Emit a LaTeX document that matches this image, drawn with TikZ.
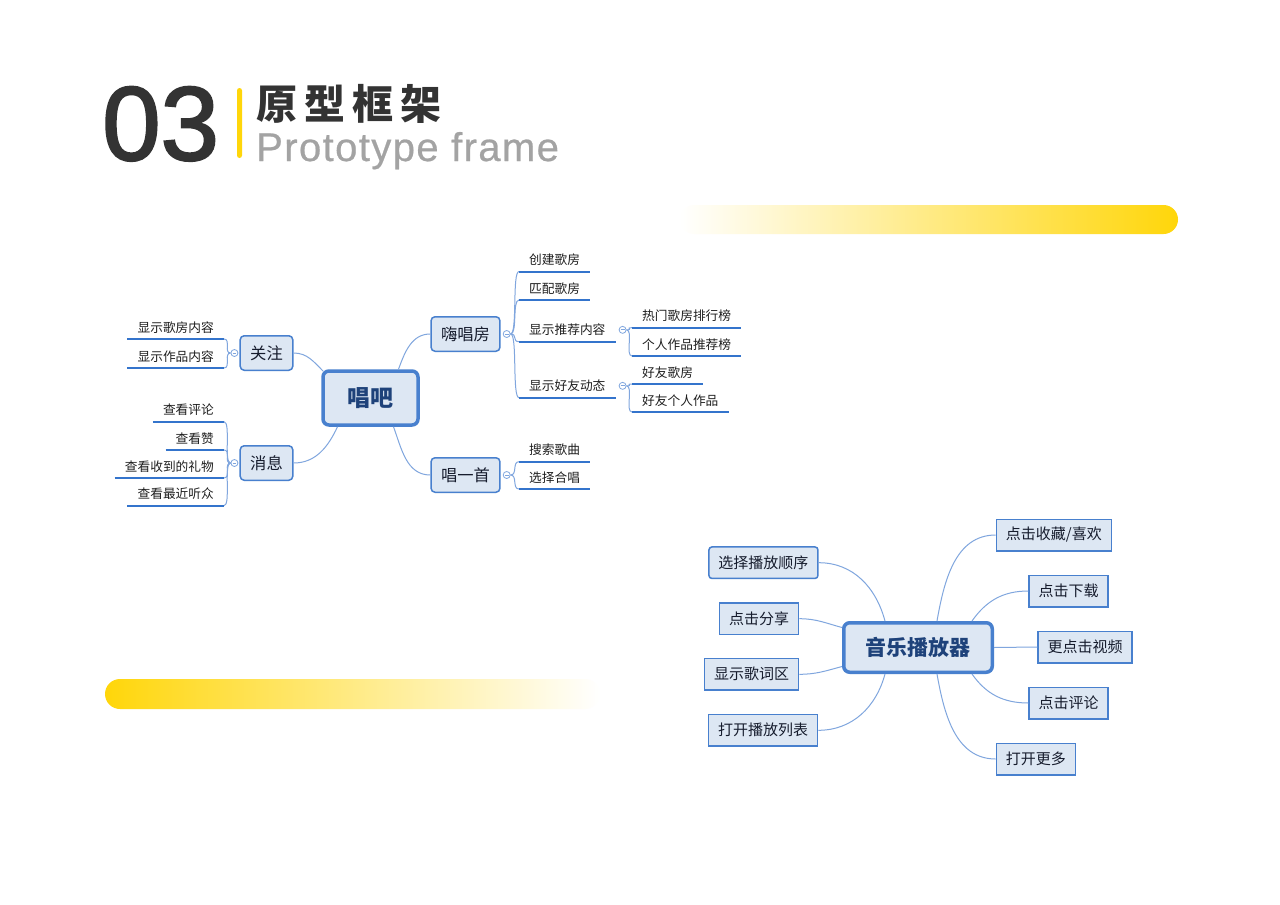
\documentclass[tikz,border=0pt]{standalone}
\usepackage{fontspec}
\setmainfont{Noto Sans CJK SC}
\newfontfamily\arial{Liberation Sans}
\definecolor{bary}{RGB}{255,214,10}
\definecolor{titlegray}{RGB}{51,51,51}
\definecolor{subgray}{RGB}{163,163,163}
\definecolor{nodeblue}{RGB}{72,128,206}
\definecolor{nodefill}{RGB}{221,231,243}
\definecolor{hubtext}{RGB}{30,66,122}
\definecolor{topictext}{RGB}{22,28,45}
\definecolor{leaftext}{RGB}{30,30,30}
\definecolor{linkblue}{RGB}{128,166,222}
\definecolor{ulblue}{RGB}{52,116,204}
\usetikzlibrary{calc}

\begin{document}
\begin{tikzpicture}[x=1pt, y=-1pt,
  hub/.style={draw=nodeblue, line width=3.5pt, fill=nodefill, rounded corners=6pt,
    text=hubtext, font=\bfseries\fontsize{23pt}{23pt}\selectfont,
    minimum width=95pt, minimum height=54pt},
  topic/.style={draw=nodeblue, line width=1.5pt, fill=nodefill, rounded corners=4pt,
    text=topictext, font=\fontsize{16.3pt}{16.3pt}\selectfont,
    inner xsep=10pt, minimum height=34.5pt},
  box/.style={topic, sharp corners, font=\fontsize{15pt}{15pt}\selectfont,
    inner xsep=9.5pt, minimum height=31.5pt},
  leaf/.style={font=\fontsize{12.7pt}{12.7pt}\selectfont, text=leaftext,
    inner xsep=10pt, inner ysep=5.3pt, text height=11.2pt, text depth=1.5pt},
  knob/.style={circle, draw=linkblue, fill=white, line width=0.8pt, inner sep=0pt,
    minimum size=7pt, path picture={\draw[linkblue, line width=0.8pt]
      ([xshift=1.6pt]path picture bounding box.west) -- ([xshift=-1.6pt]path picture bounding box.east);}},
  link/.style={draw=linkblue, line width=1pt},
  uline/.style={draw=ulblue, line width=2pt},
  brr/.style={to path={.. controls ([xshift=7pt]\tikztostart) and ([xshift=-7pt]\tikztotarget) .. (\tikztotarget)}},
  brl/.style={to path={.. controls ([xshift=-7pt]\tikztostart) and ([xshift=7pt]\tikztotarget) .. (\tikztotarget)}}]

  \fill [white] (0,0) rectangle (1280,905);
  \useasboundingbox (0,0) rectangle (1280,905);

  % title
  \node [anchor=base west, inner sep=0pt, text=titlegray,
    font=\arial\addfontfeature{FakeBold=2}\fontsize{105pt}{105pt}\selectfont] (num) at (102,160) {03};
  \fill [bary, rounded corners=2.5pt] (237,88) rectangle (242,158);
  \node [anchor=base west, inner sep=0pt, text=titlegray,
    font=\bfseries\fontsize{41pt}{41pt}\selectfont] (cn) at (256,119)
    {原\hspace{7pt}型\hspace{7pt}框\hspace{7pt}架};
  \node [anchor=base west, inner sep=0pt, text=subgray,
    font=\arial\addfontfeature{LetterSpace=3.5,FakeBold=0.6}\fontsize{40pt}{40pt}\selectfont] (en) at (256,161) {Prototype frame};

  % yellow bars
  \shade [left color=white, right color=bary, rounded corners=14.5pt] (680,205) rectangle (1178,234);
  \shade [left color=bary, right color=white, rounded corners=15pt] (105,679) rectangle (600,709);

  % first map
  \node [hub] (cb) at (370.5,398) {唱吧};
  \node [topic] (gz) at (266.5,353) {关注};
  \node [topic] (xx) at (266.5,463) {消息};
  \node [topic] (hcf) at (465.5,334) {嗨唱房};
  \node [topic] (cys) at (465.5,475) {唱一首};

  \draw [link] ([xshift=2pt,yshift=-2pt]cb.north west) to[out=135, in=0] (gz.east);
  \draw [link] ([xshift=-33pt]cb.south) to[out=-115, in=0] (xx.east);
  \draw [link] ([xshift=28pt]cb.north) to[out=70, in=180] (hcf.west);
  \draw [link] ([xshift=23pt]cb.south) to[out=-70, in=180] (cys.west);

  \node [knob] (mk1) at ([xshift=-5pt]gz.west) {};
  \node [knob] (mk2) at ([xshift=-5pt]xx.west) {};
  \node [knob] (mk3) at ([xshift=6pt]hcf.east) {};
  \node [knob] (mk4) at ([xshift=6pt]cys.east) {};

  \node [leaf, anchor=south east] (gf) at (224,339) {显示歌房内容};
  \node [leaf, anchor=south east] (zp) at (224,368) {显示作品内容};
  \node [leaf, anchor=south east] (pl) at (224,421.7) {查看评论};
  \node [leaf, anchor=south east] (zan) at (224,450) {查看赞};
  \node [leaf, anchor=south east] (lw) at (224,478) {查看收到的礼物};
  \node [leaf, anchor=south east] (tz) at (224,505.7) {查看最近听众};

  \node [leaf, anchor=south west] (cj) at (519,271.5) {创建歌房};
  \node [leaf, anchor=south west] (pp) at (519,300) {匹配歌房};
  \node [leaf, anchor=south west] (tj) at (519,341.7) {显示推荐内容};
  \node [leaf, anchor=south west] (hy) at (519,397.7) {显示好友动态};
  \node [leaf, anchor=south west] (ss) at (519,461.7) {搜索歌曲};
  \node [leaf, anchor=south west] (xc) at (519,489) {选择合唱};

  \node [knob] (mk5) at ([xshift=7pt]tj.east) {};
  \node [knob] (mk6) at ([xshift=7pt]hy.east) {};

  \node [leaf, anchor=south west] (rm) at (632,327.7) {热门歌房排行榜};
  \node [leaf, anchor=south west] (gr) at (632,356) {个人作品推荐榜};
  \node [leaf, anchor=south west] (hf) at (632,384) {好友歌房};
  \node [leaf, anchor=south west] (hz) at (632,412) {好友个人作品};

  \foreach \n in {gf,zp} \draw [link] (mk1.west) to[brl] (\n.south east);
  \foreach \n in {pl,zan,lw,tz} \draw [link] (mk2.west) to[brl] (\n.south east);
  \foreach \n in {cj,pp,tj,hy} \draw [link] (mk3.east) to[brr] (\n.south west);
  \foreach \n in {ss,xc} \draw [link] (mk4.east) to[brr] (\n.south west);
  \foreach \n in {rm,gr} \draw [link] (mk5.east) to[brr] (\n.south west);
  \foreach \n in {hf,hz} \draw [link] (mk6.east) to[brr] (\n.south west);

  \foreach \n in {gf,zp,pl,zan,lw,tz,cj,pp,tj,hy,ss,xc,rm,gr,hf,hz}
    \draw [uline] (\n.south west) -- (\n.south east);

  % second map
  \node [hub, minimum width=148.5pt, minimum height=49.5pt,
    font=\bfseries\fontsize{21pt}{21pt}\selectfont] (mp) at (918,647.5) {音乐播放器};

  \node [box, rounded corners=3pt, anchor=east] (sx) at (818.7,562.7) {选择播放顺序};
  \node [box, anchor=east] (fx) at (799.3,618.7) {点击分享};
  \node [box, anchor=east] (gc) at (799.3,674.3) {显示歌词区};
  \node [box, anchor=east] (lb) at (818.3,730.3) {打开播放列表};
  \node [box, anchor=west] (sc) at (995.7,535) {点击收藏/喜欢};
  \node [box, anchor=west] (xz) at (1028.3,591) {点击下载};
  \node [box, anchor=west] (sp) at (1037.3,647) {更点击视频};
  \node [box, anchor=west] (pj) at (1028.3,703) {点击评论};
  \node [box, anchor=west] (gd) at (995.7,759) {打开更多};

  \draw [link] ([xshift=-33pt]mp.north) to[out=105, in=0] (sx.east);
  \draw [link] ([yshift=20pt]mp.west) to[out=165, in=0] (fx.east);
  \draw [link] ([yshift=-19pt]mp.west) to[out=195, in=0] (gc.east);
  \draw [link] ([xshift=-33pt]mp.south) to[out=-105, in=0] (lb.east);
  \draw [link] ([xshift=19pt]mp.north) to[out=80, in=180] (sc.west);
  \draw [link] ([xshift=54pt]mp.north) to[out=55, in=180] (xz.west);
  \draw [link] (mp.east) -- (sp.west);
  \draw [link] ([xshift=54pt]mp.south) to[out=-55, in=180] (pj.west);
  \draw [link] ([xshift=19pt]mp.south) to[out=-80, in=180] (gd.west);

\end{tikzpicture}
\end{document}
